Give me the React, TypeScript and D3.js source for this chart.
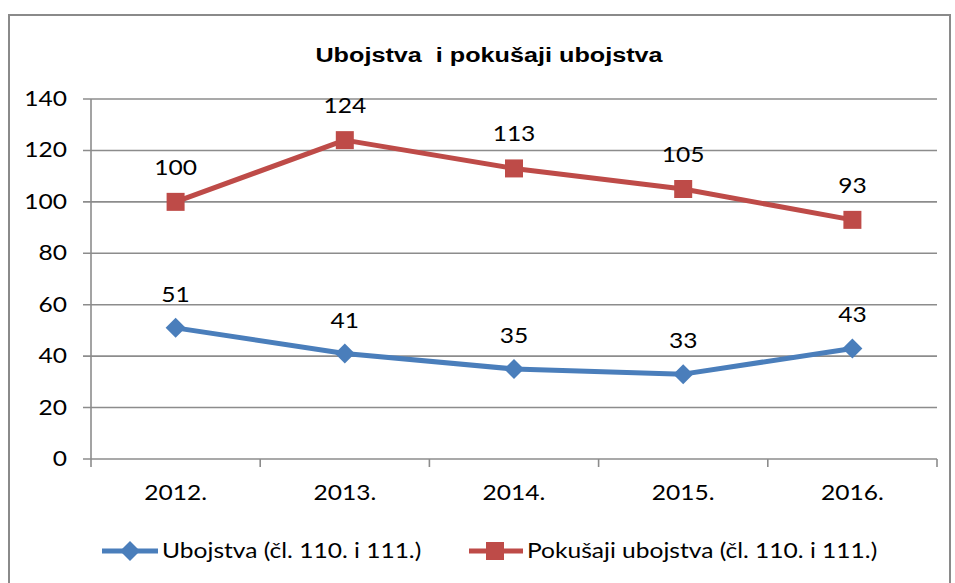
import React from "react";
import * as d3 from "d3";

const categories = ["2012.", "2013.", "2014.", "2015.", "2016."];
const ubojstva = [51, 41, 35, 33, 43];
const pokusaji = [100, 124, 113, 105, 93];
const yTicks = [0, 20, 40, 60, 80, 100, 120, 140];
const title = "Ubojstva  i pokušaji ubojstva";
const seriesNames = ["Ubojstva (čl. 110. i 111.)", "Pokušaji ubojstva (čl. 110. i 111.)"];

const W = 955, H = 583;
const left = 91, right = 937, top = 99, bottom = 459;
const BLUE = "#4A7EBB", RED = "#BE4B48", GRID = "#8C8C8C";
const FONT = "Lato, 'Open Sans', sans-serif";
const SX = 1.17;

function T(props: { x: number; y: number; anchor?: string; size?: number; bold?: boolean; family?: string; sx?: number; children: React.ReactNode }) {
  const { x, y, anchor = "start", size = 21, bold = false, family = FONT, sx = SX, children } = props;
  return (
    <text transform={`translate(${x},${y}) scale(${sx},1)`} textAnchor={anchor as any}
      fontFamily={family} fontSize={size} fontWeight={bold ? "bold" : "normal"} fill="#000"
      style={{ whiteSpace: "pre" }}>{children}</text>
  );
}

export default function App() {
  const x = d3.scaleBand().domain(categories).range([left, right]);
  const y = d3.scaleLinear().domain([0, 140]).range([bottom, top]);
  const cx = (c: string) => (x(c) as number) + x.bandwidth() / 2;
  const line = d3.line<[number, number]>().x(d => d[0]).y(d => d[1]);
  const blueP: [number, number][] = categories.map((c, i) => [cx(c), y(ubojstva[i])]);
  const redP: [number, number][] = categories.map((c, i) => [cx(c), y(pokusaji[i])]);
  const diamond = (px: number, py: number, r: number) =>
    `M${px},${py - r}L${px + r},${py}L${px},${py + r}L${px - r},${py}Z`;

  return (
    <svg width={W} height={H} style={{ position: "absolute", left: 0, top: 0, background: "#fff" }}>
      <rect x={9} y={15} width={941} height={600} fill="#fff" stroke="#8A8A8A" strokeWidth={2} />
      <T x={489} y={62} anchor="middle" family="'Liberation Sans', Arial, sans-serif" bold size={21} sx={1.2}>{title}</T>
      {yTicks.map(t => (
        <g key={t}>
          <line x1={83} x2={right} y1={y(t)} y2={y(t)} stroke={GRID} strokeWidth={1.6} />
          <T x={67} y={y(t) + 7} anchor="end">{t}</T>
        </g>
      ))}
      <line x1={left} x2={left} y1={top} y2={bottom} stroke={GRID} strokeWidth={1.6} />
      {[...categories.map(c => x(c) as number), right].map((tx, i) => (
        <line key={i} x1={tx} x2={tx} y1={bottom} y2={bottom + 8} stroke={GRID} strokeWidth={1.6} />
      ))}
      {categories.map(c => (
        <T key={c} x={cx(c)} y={500} anchor="middle">{c}</T>
      ))}
      <path d={line(redP) as string} fill="none" stroke={RED} strokeWidth={5} strokeLinejoin="round" />
      <path d={line(blueP) as string} fill="none" stroke={BLUE} strokeWidth={5} strokeLinejoin="round" />
      {redP.map((p, i) => (
        <g key={"r" + i}>
          <rect x={p[0] - 9} y={p[1] - 9} width={18} height={18} fill={RED} />
          <T x={p[0]} y={p[1] - 27} anchor="middle">{pokusaji[i]}</T>
        </g>
      ))}
      {blueP.map((p, i) => (
        <g key={"b" + i}>
          <path d={diamond(p[0], p[1], 10)} fill={BLUE} />
          <T x={p[0]} y={p[1] - 26} anchor="middle">{ubojstva[i]}</T>
        </g>
      ))}
      <g>
        <line x1={102} x2={158} y1={551} y2={551} stroke={BLUE} strokeWidth={5} />
        <path d={diamond(130, 551, 10)} fill={BLUE} />
        <T x={162} y={558}>{seriesNames[0]}</T>
        <line x1={469} x2={523} y1={551} y2={551} stroke={RED} strokeWidth={5} />
        <rect x={486} y={542} width={18} height={18} fill={RED} />
        <T x={527} y={558}>{seriesNames[1]}</T>
      </g>
    </svg>
  );
}
